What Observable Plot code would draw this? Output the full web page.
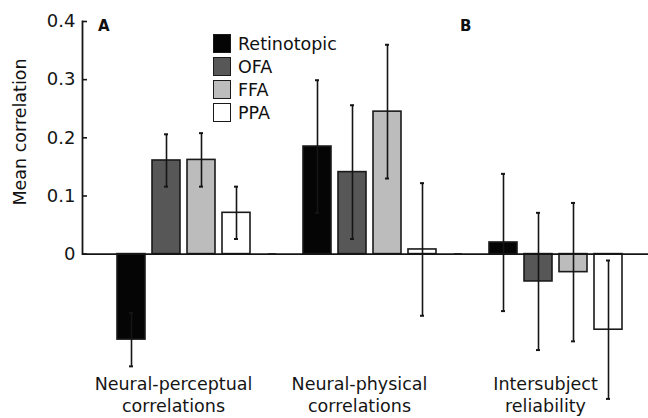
<!DOCTYPE html>
<html><head><meta charset="utf-8">
<script src="https://cdn.jsdelivr.net/npm/d3@7"></script>
<script src="https://cdn.jsdelivr.net/npm/@observablehq/plot@0.6"></script>
<style>
body{margin:0;background:#fff;font-family:"DejaVu Sans",sans-serif;}
#wrap{position:relative;width:648px;height:418px;overflow:hidden;background:#fff}
#wrap svg{display:block}
.legend{position:absolute;left:213px;top:32px;font-size:17.5px;color:#111}
.legend .row{display:flex;align-items:center;height:23px}
.legend .sw{width:16px;height:17px;border:1.5px solid #1a1a1a;margin-right:7px}
.panel{position:absolute;font-weight:bold;font-size:15px;line-height:15px;color:#111}
.ylab{position:absolute;left:20.5px;top:132px;font-size:17.5px;line-height:1;white-space:nowrap;color:#111;transform:translate(-50%,-50%) rotate(-90deg)}
</style></head><body><div id="wrap"></div>
<script>
const groups = ["perceptual", "physical", "reliability"];
const groupLabels = ["Neural-perceptual\ncorrelations", "Neural-physical\ncorrelations", "Intersubject\nreliability"];
const regions = ["Retinotopic", "OFA", "FFA", "PPA"];
const regionColors = ["#050505", "#575757", "#bcbcbc", "#ffffff"];
const meansPerceptual = [-0.147, 0.161, 0.162, 0.071];
const errPerceptual = [0.046, 0.045, 0.046, 0.045];
const meansPhysical = [0.185, 0.141, 0.245, 0.008];
const errPhysical = [0.114, 0.115, 0.115, 0.114];
const meansReliability = [0.020, -0.047, -0.031, -0.130];
const errReliability = [0.118, 0.118, 0.119, 0.119];
const yTicks = [0, 0.1, 0.2, 0.3, 0.4];
const yDomain = [-0.25, 0.4];

const meansByGroup = [meansPerceptual, meansPhysical, meansReliability];
const errByGroup = [errPerceptual, errPhysical, errReliability];
const data = [];
groups.forEach((g, gi) => regions.forEach((r, ri) => data.push({
  group: g, region: r, mean: meansByGroup[gi][ri], err: errByGroup[gi][ri]
})));

const W = 648, H = 418, mTop = 21, mBottom = 19, mLeft = 90, mRight = 0;
const yS = Plot.scale({y: {domain: yDomain, range: [H - mBottom, mTop]}});
const axisBelowZero = yS.apply(yDomain[0]) - yS.apply(0);
const ink = "#151515";

const chart = Plot.plot({
  width: W, height: H,
  marginTop: mTop, marginBottom: mBottom, marginLeft: mLeft, marginRight: mRight,
  style: {fontFamily: "DejaVu Sans", fontSize: "17.5px", color: ink, background: "white", overflow: "visible"},
  fx: {domain: groups, padding: 0, label: null},
  x: {domain: regions, paddingInner: 0.2, paddingOuter: 0.72, axis: null},
  y: {domain: yDomain},
  color: {domain: regions, range: regionColors},
  marks: [
    Plot.barY(data, {fx: "group", x: "region", y: "mean", fill: "region", stroke: "#1a1a1a", strokeWidth: 1.6}),
    Plot.ruleY([0], {stroke: ink, strokeWidth: 1.8, insetLeft: -8}),
    Plot.ruleX(data, {fx: "group", x: "region", y1: d => d.mean - d.err, y2: d => d.mean + d.err, stroke: ink, strokeWidth: 1.6}),
    Plot.tickY(data, {fx: "group", x: "region", y: d => d.mean - d.err, stroke: ink, strokeWidth: 2, insetLeft: 12, insetRight: 12}),
    Plot.tickY(data, {fx: "group", x: "region", y: d => d.mean + d.err, stroke: ink, strokeWidth: 2, insetLeft: 12, insetRight: 12}),
    Plot.frame({anchor: "left", fx: () => groups[0], dx: -8, insetBottom: axisBelowZero, stroke: ink, strokeWidth: 1.8}),
    Plot.axisY({ticks: yTicks, tickSize: -5, tickPadding: 12, dx: -8, label: null, fontSize: 18, strokeWidth: 1.6, tickFormat: d => d === 0 ? "0" : d3.format(".1f")(d)}),
    Plot.axisFx({anchor: "bottom", tickSize: 0, tickPadding: 0, dy: -25, dx: -10, label: null, fontSize: 17.5, lineHeight: 1.25,
      tickFormat: g => groupLabels[groups.indexOf(g)]})
  ]
});

const wrap = document.getElementById("wrap");
wrap.appendChild(chart);

const legend = document.createElement("div");
legend.className = "legend";
regions.forEach((r, i) => {
  const row = document.createElement("div");
  row.className = "row";
  const sw = document.createElement("span");
  sw.className = "sw";
  sw.style.background = regionColors[i];
  const t = document.createElement("span");
  t.textContent = r;
  row.appendChild(sw); row.appendChild(t);
  legend.appendChild(row);
});
wrap.appendChild(legend);

[["A", 98], ["B", 460]].forEach(([t, left]) => {
  const s = document.createElement("div");
  s.className = "panel";
  s.textContent = t;
  s.style.left = left + "px";
  s.style.top = "19px";
  wrap.appendChild(s);
});

const yl = document.createElement("div");
yl.className = "ylab";
yl.textContent = "Mean correlation";
wrap.appendChild(yl);
</script></body></html>
